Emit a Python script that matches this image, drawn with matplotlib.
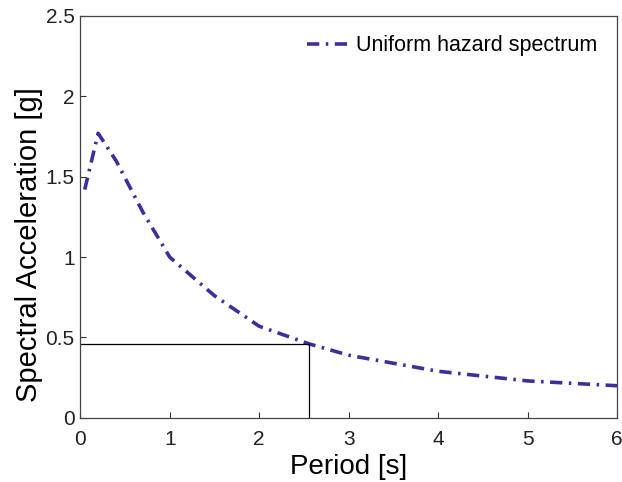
import matplotlib.pyplot as plt

# uniform hazard spectrum (period in s, spectral acceleration in g)
period = [0.05, 0.2, 0.4, 0.7, 1.0, 1.5, 2.0, 2.56, 3.0, 4.0, 5.0, 6.0]
sa = [1.42, 1.77, 1.60, 1.28, 1.0, 0.76, 0.57, 0.46, 0.39, 0.29, 0.23, 0.20]

# design point
t_design = 2.56
sa_design = 0.46

plt.rcParams["font.family"] = ["Liberation Sans", "DejaVu Sans"]

fig, ax = plt.subplots(figsize=(6.22, 4.82), dpi=100)
fig.subplots_adjust(left=0.129, right=0.992, top=0.967, bottom=0.133)

ax.plot(period, sa, linestyle="-.", color="#3d2e9e", linewidth=2.6,
        dashes=(3.4, 1.8, 0.7, 1.8), label="Uniform hazard spectrum")
ax.plot([0, t_design], [sa_design, sa_design], color="black", linewidth=0.9)
ax.plot([t_design, t_design], [0, sa_design], color="black", linewidth=0.9)

ax.set_xlim(0, 6)
ax.set_ylim(0, 2.5)
ax.set_xticks(range(0, 7))
ax.set_yticks([0, 0.5, 1, 1.5, 2, 2.5])
ax.set_yticklabels(["0", "0.5", "1", "1.5", "2", "2.5"])
ax.tick_params(direction="in", labelsize=15, length=4, colors="#333333",
               labelcolor="#222222", pad=4)
ax.tick_params(axis="x", pad=9)
ax.set_xlabel("Period [s]", fontsize=20, labelpad=3)
ax.set_ylabel("Spectral Acceleration [g]", fontsize=21)
ax.yaxis.set_label_coords(-0.07, 0.43)
for s in ax.spines.values():
    s.set_color("#444444")
    s.set_linewidth(0.9)

ax.legend(loc="upper right", frameon=False, fontsize=15.5, handlelength=2.0,
          handletextpad=0.3, borderaxespad=0.5)

fig.savefig("out.png", dpi=100)
